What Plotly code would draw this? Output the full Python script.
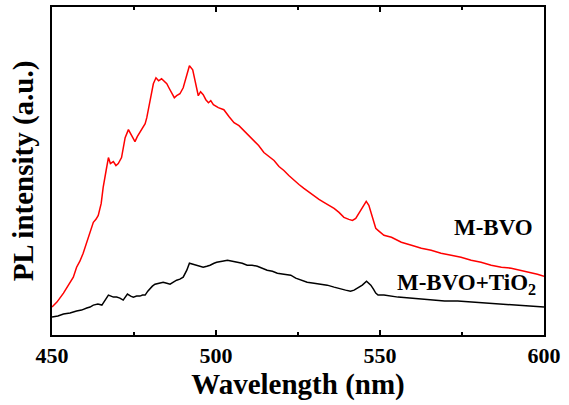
import plotly.graph_objects as go

# M-BVO (red) curve: wavelength (nm), intensity (a.u.)
red_wl = [450.0, 451.5, 453.5, 455.0, 456.5, 457.5, 458.5, 459.5, 460.5, 461.6, 462.6, 463.4, 464.1,
          465.0, 465.6, 466.5, 467.2, 467.8, 468.7, 469.5, 470.2, 471.2, 471.8, 472.3, 473.3, 474.3,
          475.3, 476.0, 476.8, 477.6, 478.4, 478.9, 479.9, 480.9, 481.7, 482.5, 483.4, 484.2, 485.0,
          485.8, 486.5, 487.3, 488.0, 489.0, 490.0, 490.9, 491.9, 492.9, 493.9, 494.6, 495.3, 496.1,
          496.9, 497.7, 498.4, 499.2, 500.7, 502.4, 504.0, 505.5, 507.0, 508.5, 510.0, 511.6, 513.0,
          514.6, 516.2, 517.7, 519.2, 520.7, 522.2, 523.8, 525.3, 526.8, 528.4, 529.9, 531.4, 532.9,
          534.5, 536.0, 537.5, 539.0, 540.5, 541.6, 542.6, 543.4, 544.1, 545.0, 545.8, 546.6, 547.7,
          548.7, 549.4, 551.2, 553.5, 556.5, 559.6, 562.6, 565.6, 568.6, 571.7, 574.7, 577.8, 580.8,
          583.9, 587.0, 590.0, 593.0, 596.1, 598.0, 600.0]
red_int = [28, 33, 42, 50, 58, 68, 74, 82, 92, 105, 113, 116, 120,
           132, 148, 165, 178, 172, 174, 170, 172, 178, 190, 198, 206, 200,
           194, 199, 203, 208, 212, 218, 235, 252, 258, 255, 257, 254, 252,
           247, 243, 238, 240, 242, 248, 258, 270, 266, 252, 240, 244, 241,
           236, 233, 235, 231, 228, 226, 219, 213, 210, 205, 200, 195, 190,
           183, 179, 175, 169, 165, 160, 155, 151, 147, 143, 140, 136, 133,
           130, 127, 123, 118, 116, 115, 117, 121, 125, 130, 134, 130, 118,
           107, 105, 100, 98, 93, 90, 87, 85, 82, 80, 78, 75, 73,
           70, 68, 67, 65, 63, 61, 59]

# M-BVO+TiO2 (black) curve
blk_wl = [450.0, 451.8, 453.5, 455.5, 457.5, 459.0, 460.6, 461.6, 462.6, 464.0, 465.2, 466.2, 467.2,
          468.0, 468.7, 469.7, 470.7, 471.7, 472.3, 473.0, 474.0, 474.8, 475.8, 476.8, 477.6, 478.4,
          479.2, 479.9, 480.6, 481.4, 482.6, 483.9, 485.0, 486.0, 487.0, 488.0, 489.0, 490.0, 491.1,
          491.9, 493.0, 494.1, 495.1, 496.1, 497.2, 498.2, 499.4, 500.2, 501.9, 503.5, 505.0, 506.5,
          508.0, 509.5, 511.0, 512.6, 514.1, 515.6, 517.2, 518.7, 520.7, 522.8, 524.3, 525.8, 527.8,
          529.9, 531.9, 533.9, 536.0, 538.0, 539.5, 541.0, 542.1, 543.1, 544.6, 545.9, 547.2, 548.0,
          548.7, 549.4, 551.2, 555.5, 561.6, 565.6, 569.7, 573.7, 577.8, 582.0, 586.0, 590.0, 594.1,
          597.0, 600.0]
blk_int = [18, 19, 21, 22, 24, 25, 27, 28, 30, 31, 30, 35, 40,
           39, 38, 38, 37, 35, 38, 41, 39, 38, 39, 39, 40, 40,
           44, 47, 49, 51, 52, 53, 52, 51, 53, 55, 56, 58, 65,
           72, 71, 70, 69, 68, 69, 70, 72, 73, 74, 75, 74, 73,
           72, 70, 70, 69, 67, 65, 64, 62, 61, 60, 57, 55, 53,
           52, 51, 50, 48, 46, 45, 44, 45, 47, 50, 54, 50, 46,
           42, 40, 40, 38, 36, 35, 34, 34, 33, 32, 31, 30, 29,
           29, 28]

x_range = [450, 600]
x_major_step = 50
x_minor_step = 25
label_red = "M-BVO"
label_blk = "M-BVO+TiO<sub>2</sub>"

FONT = "Liberation Serif"

fig = go.Figure()
fig.add_trace(go.Scatter(x=blk_wl, y=blk_int, mode="lines",
                         line=dict(color="black", width=1.5), showlegend=False))
fig.add_trace(go.Scatter(x=red_wl, y=red_int, mode="lines",
                         line=dict(color="#ff0000", width=1.5), showlegend=False))

fig.add_annotation(x=597.3, y=108, xref="x", yref="y", text=label_red,
                   showarrow=False, xanchor="right", yanchor="middle",
                   font=dict(family=FONT, size=23, color="black", weight="bold"))
fig.add_annotation(x=598.2, y=51, xref="x", yref="y", text=label_blk,
                   showarrow=False, xanchor="right", yanchor="middle",
                   font=dict(family=FONT, size=23, color="black", weight="bold"))

fig.update_layout(
    width=569, height=405,
    margin=dict(l=52, r=25, t=7, b=70, autoexpand=False),
    paper_bgcolor="white", plot_bgcolor="white",
    font=dict(family=FONT, color="black"),
    xaxis=dict(
        range=x_range, tickmode="linear", tick0=x_range[0], dtick=x_major_step,
        ticks="inside", ticklen=5, tickwidth=2, tickcolor="black",
        minor=dict(ticks="inside", ticklen=3, tickwidth=1.5, tickcolor="black",
                   tick0=x_range[0], dtick=x_minor_step),
        showline=True, linewidth=2, linecolor="black", mirror="allticks",
        showgrid=False, zeroline=False,
        tickfont=dict(family=FONT, size=22, color="black", weight="bold"),
        title=dict(text="Wavelength (nm)", font=dict(family=FONT, size=29, color="black", weight="bold"),
                   standoff=6),
    ),
    yaxis=dict(
        range=[0, 329], showticklabels=False, ticks="",
        showline=True, linewidth=2, linecolor="black", mirror=True,
        showgrid=False, zeroline=False,
        title=dict(text="PL intensity (a.u.)", font=dict(family=FONT, size=29, color="black", weight="bold"),
                   standoff=8),
    ),
)

fig.write_html("out.html", config={"displayModeBar": False},
               post_script="document.body.style.margin='0';")
